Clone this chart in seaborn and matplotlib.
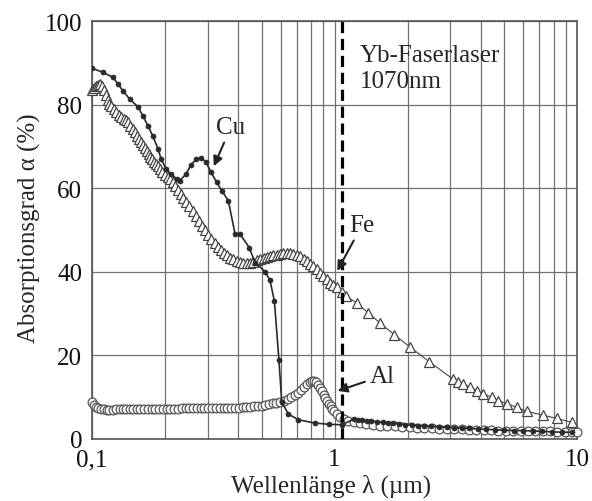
import numpy as np
import pandas as pd
import seaborn as sns
import matplotlib.pyplot as plt
from matplotlib.ticker import NullFormatter, LogLocator

# Cu (filled dots)
cu_x = [0.100, 0.111, 0.122, 0.128, 0.134, 0.143, 0.155, 0.162, 0.170, 0.178,
        0.187, 0.193, 0.202, 0.212, 0.224, 0.230, 0.244, 0.256, 0.269, 0.282,
        0.295, 0.310, 0.327, 0.343, 0.365, 0.389, 0.408, 0.445, 0.470, 0.517,
        0.542, 0.565, 0.590, 0.606, 0.645, 0.709, 0.831, 0.950, 1.07,
        1.20, 1.25, 1.30, 1.36, 1.42, 1.50, 1.58, 1.66, 1.75, 1.85, 1.96, 2.08,
        2.20, 2.35, 2.50, 2.70, 2.90, 3.10, 3.35, 3.60, 3.90, 4.20, 4.60, 5.00,
        5.50, 6.00, 6.60, 7.20, 7.90, 8.70, 9.50]
cu_y = [88.8, 87.8, 86.6, 85.0, 83.4, 81.4, 79.5, 77.4, 75.0, 72.6,
        69.5, 67.0, 64.6, 63.4, 62.2, 61.8, 63.4, 65.6, 67.0, 67.3,
        66.3, 63.8, 61.4, 59.4, 57.0, 49.0, 49.0, 45.8, 42.2, 40.0,
        37.9, 33.0, 18.8, 8.7, 5.9, 4.5, 3.7, 3.4, 3.3,
        4.6, 4.5, 4.4, 4.3, 4.2, 4.0, 3.9, 3.8, 3.6, 3.5, 3.3, 3.2,
        3.1, 3.0, 2.9, 2.8, 2.7, 2.6, 2.5, 2.4, 2.3, 2.2, 2.1, 2.0,
        1.9, 1.9, 1.8, 1.7, 1.6, 1.5, 1.5]

# Fe (open triangles)
fe_x = [0.100, 0.102, 0.104, 0.106, 0.108, 0.110, 0.112, 0.114, 0.116, 0.118,
        0.120, 0.123, 0.126, 0.129, 0.132, 0.135, 0.138, 0.141, 0.144, 0.147,
        0.150, 0.153, 0.156, 0.159, 0.162, 0.165, 0.168, 0.171, 0.174, 0.177,
        0.180, 0.183, 0.187, 0.191, 0.195, 0.200, 0.205, 0.210, 0.215, 0.220,
        0.226, 0.232, 0.238, 0.245, 0.252, 0.260, 0.268, 0.276, 0.284, 0.293,
        0.302, 0.311, 0.320, 0.330, 0.340, 0.350, 0.361, 0.372, 0.383, 0.395,
        0.408, 0.421, 0.435, 0.449, 0.463, 0.478, 0.494, 0.510, 0.525, 0.542,
        0.560, 0.578, 0.596, 0.615, 0.635, 0.655, 0.676, 0.698, 0.721, 0.745,
        0.770, 0.795, 0.818, 0.845, 0.873, 0.900, 0.929, 0.960, 0.990, 1.020,
        1.07, 1.12, 1.235, 1.38, 1.54, 1.765, 2.05, 2.46, 3.09, 3.24,
        3.40, 3.62, 3.86, 4.11, 4.45, 4.74, 5.13, 5.64, 6.20, 7.26,
        8.24, 9.51]
fe_y = [83.5, 84.0, 84.5, 84.8, 85.0, 84.6, 83.5, 82.3, 81.2, 80.3,
        79.8, 79.0, 78.3, 77.6, 77.0, 76.6, 76.3, 75.8, 75.0, 74.1,
        73.4, 72.6, 71.8, 71.0, 70.3, 69.6, 68.9, 68.3, 67.6, 67.0,
        66.4, 65.9, 65.3, 64.6, 64.0, 63.3, 62.8, 62.3, 61.6, 60.6,
        59.6, 58.6, 57.6, 56.7, 55.8, 54.6, 53.3, 52.1, 51.0, 50.0,
        48.8, 47.8, 46.8, 45.9, 45.1, 44.5, 43.9, 43.3, 43.0, 42.6,
        42.3, 42.1, 42.1, 42.2, 42.4, 42.7, 43.0, 43.3, 43.5, 43.8,
        44.0, 44.1, 44.2, 44.4, 44.5, 44.5, 44.3, 44.0, 43.7, 43.1,
        42.5, 41.9, 41.3, 40.6, 39.8, 39.0, 38.2, 37.4, 36.8, 36.3,
        35.2, 34.1, 32.5, 30.1, 27.7, 24.9, 21.9, 18.4, 14.2, 13.6,
        13.1, 12.3, 11.5, 10.7, 9.9, 9.1, 8.3, 7.5, 6.5, 5.6,
        4.8, 3.9]

# Al (open circles)
al_x = [0.100, 0.102, 0.104, 0.106, 0.109, 0.112, 0.115, 0.118, 0.122, 0.126,
        0.130, 0.134, 0.138, 0.143, 0.148, 0.153, 0.158, 0.164, 0.170, 0.176,
        0.182, 0.189, 0.196, 0.203, 0.210, 0.218, 0.226, 0.234, 0.243, 0.252,
        0.261, 0.271, 0.281, 0.291, 0.302, 0.313, 0.325, 0.337, 0.349, 0.362,
        0.375, 0.389, 0.403, 0.418, 0.433, 0.449, 0.466, 0.483, 0.500, 0.518,
        0.537, 0.556, 0.576, 0.597, 0.618, 0.640, 0.662, 0.684, 0.706, 0.728,
        0.750, 0.770, 0.790, 0.808, 0.825, 0.842, 0.858, 0.873, 0.888, 0.903,
        0.918, 0.933, 0.948, 0.963, 0.978, 0.995, 1.02, 1.05, 1.09, 1.14,
        1.20, 1.27, 1.35, 1.44, 1.54, 1.65, 1.77, 1.90, 2.04, 2.19,
        2.35, 2.52, 2.70, 2.90, 3.11, 3.34, 3.58, 3.84, 4.12, 4.42,
        4.74, 5.08, 5.45, 5.85, 6.27, 6.72, 7.21, 7.73, 8.29, 8.89,
        9.53, 10.0]
al_y = [8.8, 8.1, 7.6, 7.3, 7.1, 7.0, 6.9, 6.9, 6.9, 7.0,
        7.0, 7.0, 7.0, 7.0, 7.0, 7.0, 7.0, 7.1, 7.1, 7.1,
        7.1, 7.1, 7.1, 7.1, 7.1, 7.1, 7.1, 7.2, 7.2, 7.2,
        7.2, 7.2, 7.2, 7.2, 7.2, 7.2, 7.3, 7.3, 7.3, 7.3,
        7.3, 7.4, 7.4, 7.5, 7.5, 7.6, 7.7, 7.8, 7.9, 8.0,
        8.2, 8.4, 8.6, 8.8, 9.1, 9.5, 9.9, 10.4, 11.0, 11.7,
        12.4, 13.0, 13.5, 13.8, 13.8, 13.5, 12.9, 12.1, 11.3, 10.5,
        9.7, 9.0, 8.3, 7.7, 7.1, 6.5, 5.8, 5.1, 4.6, 4.2,
        3.9, 3.6, 3.4, 3.2, 3.1, 3.0, 2.9, 2.8, 2.7, 2.6,
        2.5, 2.4, 2.3, 2.3, 2.2, 2.2, 2.1, 2.1, 2.0, 2.0,
        1.9, 1.9, 1.9, 1.8, 1.8, 1.8, 1.7, 1.7, 1.6, 1.6,
        1.5, 1.5]

laser_um = 1.07

sns.set_style("white")
plt.rcParams['font.family'] = ['Liberation Serif', 'DejaVu Serif']

fig = plt.figure(figsize=(5.92, 5.02), dpi=100)
ax = fig.add_axes([0.1554, 0.1245, 0.8193, 0.8307])
ax.set_xscale('log')

# curves
sns.lineplot(x=al_x, y=al_y, ax=ax, sort=False, estimator=None,
             color='#555555', lw=0.8, marker='o', markersize=6.3,
             markerfacecolor='white', markeredgecolor='#555555',
             markeredgewidth=0.9, clip_on=False, zorder=3)
sns.lineplot(x=fe_x, y=fe_y, ax=ax, sort=False, estimator=None,
             color='#444444', lw=0.8, marker='^', markersize=7,
             markerfacecolor='white', markeredgecolor='#444444',
             markeredgewidth=0.9, clip_on=False, zorder=4)
sns.lineplot(x=cu_x, y=cu_y, ax=ax, sort=False, estimator=None,
             color='#2a2a2a', lw=1.2, marker='o', markersize=3.6,
             markerfacecolor='#2a2a2a', markeredgecolor='#2a2a2a',
             markeredgewidth=0.5, zorder=5)

# laser line
ax.axvline(laser_um, color='black', lw=2.3, ls=(0, (3.5, 1.8)), zorder=6)
ax.text(1.27, 94.6, 'Yb-Faserlaser\n1070nm', fontsize=18, ha='left', va='top',
        linespacing=1.25)

arrow = dict(arrowstyle='-|>', color='#222222', lw=1.5, mutation_scale=14,
             shrinkA=1, shrinkB=0)
ax.annotate('Cu', xy=(0.318, 65.3), xytext=(0.374, 74.7), fontsize=18,
            ha='center', va='center', arrowprops=arrow, zorder=7)
ax.annotate('Fe', xy=(1.027, 40.2), xytext=(1.30, 51.2), fontsize=18,
            ha='center', va='center', arrowprops=arrow, zorder=7)
ax.annotate('Al', xy=(1.03, 11.4), xytext=(1.57, 15.0), fontsize=18,
            ha='center', va='center', arrowprops=arrow, zorder=7)

# axes
ax.set_xlim(0.1, 10)
ax.set_ylim(0, 100)
ax.set_xticks([0.1, 1, 10])
ax.set_xticklabels(['0,1', '1', '10'])
ax.xaxis.set_minor_locator(LogLocator(base=10, subs=np.arange(2, 10)))
ax.xaxis.set_minor_formatter(NullFormatter())
ax.set_yticks([0, 20, 40, 60, 80, 100])
ax.tick_params(which='both', length=0, labelsize=18, pad=7, colors='#111111')
ax.grid(True, which='both', axis='x', color='#707070', lw=0.9)
ax.grid(True, which='major', axis='y', color='#707070', lw=0.9)
ax.set_axisbelow(True)
for s in ax.spines.values():
    s.set_color('#555555')
    s.set_linewidth(1.2)

ax.set_xlabel('Wellenlänge λ (µm)', fontsize=18)
ax.set_ylabel('Absorptionsgrad α (%)', fontsize=18)
ax.xaxis.set_label_coords(0.493, -0.085)
ax.yaxis.set_label_coords(-0.105, 0.507)

fig.savefig('out.png', dpi=100)
